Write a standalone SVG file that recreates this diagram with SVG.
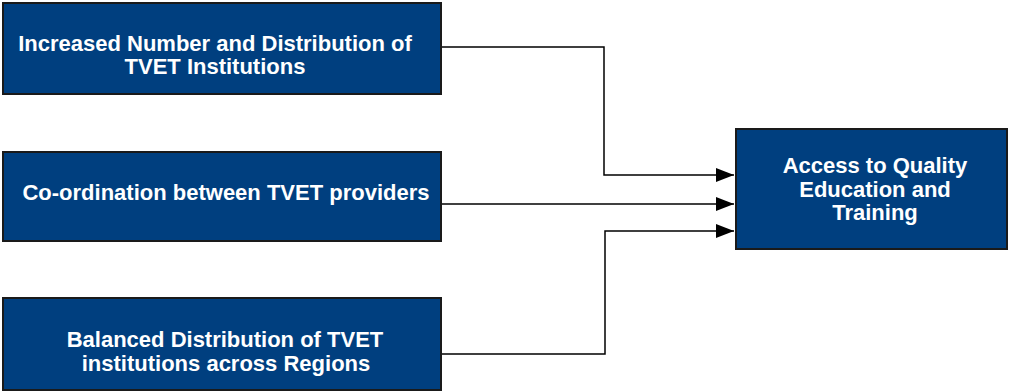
<svg xmlns="http://www.w3.org/2000/svg" width="1009" height="392" viewBox="0 0 1009 392">
<defs>
<style>
.box{fill:#003F7F;stroke:#1a1a1a;stroke-width:2}
.t{fill:#ffffff;font-family:"Liberation Sans",Arial,sans-serif;font-weight:bold;font-size:22px;text-anchor:middle}
.c{fill:none;stroke:#000000;stroke-width:1.5}
</style>
<marker id="ah" viewBox="0 0 18 14" refX="18" refY="7" markerWidth="18" markerHeight="14" markerUnits="userSpaceOnUse" orient="auto">
<path d="M0,0 L18,7 L0,14 Z" fill="#000000"/>
</marker>
</defs>
<rect width="1009" height="392" fill="#ffffff"/>
<g id="connectors">
<path class="c" d="M441,47 H604 V175 H734" marker-end="url(#ah)"/>
<path class="c" d="M441,204 H734" marker-end="url(#ah)"/>
<path class="c" d="M441,354 H605 V231 H734" marker-end="url(#ah)"/>
</g>
<g id="node1">
<rect class="box" x="3" y="3" width="438" height="91"/>
<text class="t" x="215" y="51">Increased Number and Distribution of</text>
<text class="t" x="215" y="74">TVET Institutions</text>
</g>
<g id="node2">
<rect class="box" x="3" y="152" width="438" height="89"/>
<text class="t" x="226" y="200">Co-ordination between TVET providers</text>
</g>
<g id="node3">
<rect class="box" x="3" y="298" width="438" height="92"/>
<text class="t" x="225" y="347">Balanced Distribution of TVET</text>
<text class="t" x="226" y="371">institutions across Regions</text>
</g>
<g id="node4">
<rect class="box" x="736" y="129" width="271" height="120"/>
<text class="t" x="875" y="173">Access to Quality</text>
<text class="t" x="875" y="197">Education and</text>
<text class="t" x="875" y="220">Training</text>
</g>
</svg>
